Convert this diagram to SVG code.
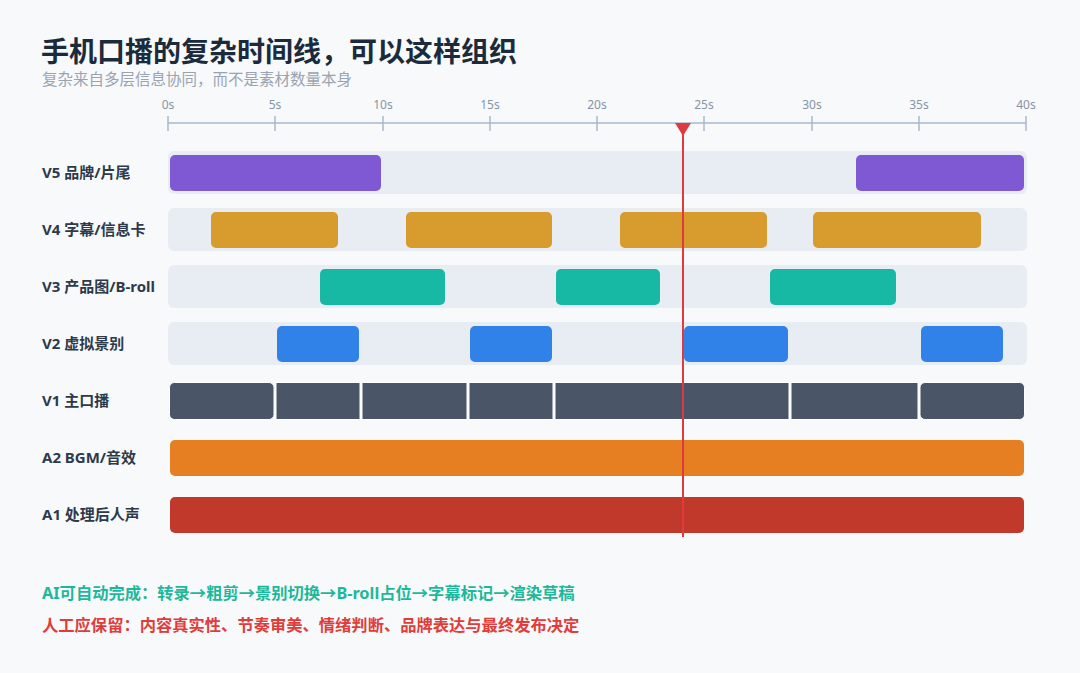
<svg xmlns="http://www.w3.org/2000/svg" width="1080" height="673" viewBox="0 0 1080 673">
<style>
text{font-family:"Noto Sans","Noto Sans CJK SC",sans-serif}
.title{font-size:28px;font-weight:700;fill:#1b2b3c}
.sub{font-size:15.5px;fill:#9aa4b1}
.tick{font-size:12px;fill:#8794a6;text-anchor:middle}
.lbl{font-size:15px;font-weight:700;fill:#2d3a4a}
.bg{fill:#e8edf3}
.v5{fill:#7f58d3}
.v4{fill:#d89c2e}
.v3{fill:#17b9a4}
.v2{fill:#3182e8}
.v1{fill:#4a5568;stroke:#ffffff;stroke-width:1}
.a2{fill:#e67e22}
.a1{fill:#c0392b}
.ai{font-size:16.3px;font-weight:700;fill:#1db89a}
.hu{font-size:16.3px;font-weight:700;fill:#e03d3a}
</style>
<rect x="0" y="0" width="1080" height="673" fill="#f7f9fb"/>
<g id="header">
<text class="title" x="41" y="62">手机口播的复杂时间线，可以这样组织</text>
<text class="sub" x="42" y="85">复杂来自多层信息协同，而不是素材数量本身</text>
</g>
<g id="ruler">
<line x1="168" y1="123" x2="1026" y2="123" stroke="#a9b8cc" stroke-width="1.5"/>
<g stroke="#a9b8cc" stroke-width="1.5">
<line x1="168" y1="116" x2="168" y2="131"/>
<line x1="275" y1="116" x2="275" y2="131"/>
<line x1="383" y1="116" x2="383" y2="131"/>
<line x1="490" y1="116" x2="490" y2="131"/>
<line x1="597" y1="116" x2="597" y2="131"/>
<line x1="704" y1="116" x2="704" y2="131"/>
<line x1="812" y1="116" x2="812" y2="131"/>
<line x1="919" y1="116" x2="919" y2="131"/>
<line x1="1026" y1="116" x2="1026" y2="131"/>
</g>
<text class="tick" x="168" y="109">0s</text>
<text class="tick" x="275" y="109">5s</text>
<text class="tick" x="383" y="109">10s</text>
<text class="tick" x="490" y="109">15s</text>
<text class="tick" x="597" y="109">20s</text>
<text class="tick" x="704" y="109">25s</text>
<text class="tick" x="812" y="109">30s</text>
<text class="tick" x="919" y="109">35s</text>
<text class="tick" x="1026" y="109">40s</text>
</g>
<g id="track-v5">
<text class="lbl" x="42" y="178">V5 品牌/片尾</text>
<rect class="bg" x="168" y="151" width="859" height="43" rx="6"/>
<rect class="v5" x="170" y="155" width="211" height="36" rx="5"/>
<rect class="v5" x="856" y="155" width="168" height="36" rx="5"/>
</g>
<g id="track-v4">
<text class="lbl" x="42" y="235">V4 字幕/信息卡</text>
<rect class="bg" x="168" y="208" width="859" height="43" rx="6"/>
<rect class="v4" x="211" y="212" width="127" height="36" rx="5"/>
<rect class="v4" x="406" y="212" width="146" height="36" rx="5"/>
<rect class="v4" x="620" y="212" width="147" height="36" rx="5"/>
<rect class="v4" x="813" y="212" width="168" height="36" rx="5"/>
</g>
<g id="track-v3">
<text class="lbl" x="42" y="292">V3 产品图/B-roll</text>
<rect class="bg" x="168" y="265" width="859" height="43" rx="6"/>
<rect class="v3" x="320" y="269" width="125" height="36" rx="5"/>
<rect class="v3" x="556" y="269" width="104" height="36" rx="5"/>
<rect class="v3" x="770" y="269" width="126" height="36" rx="5"/>
</g>
<g id="track-v2">
<text class="lbl" x="42" y="349">V2 虚拟景别</text>
<rect class="bg" x="168" y="322" width="859" height="43" rx="6"/>
<rect class="v2" x="277" y="326" width="82" height="36" rx="5"/>
<rect class="v2" x="470" y="326" width="82" height="36" rx="5"/>
<rect class="v2" x="684" y="326" width="104" height="36" rx="5"/>
<rect class="v2" x="921" y="326" width="82" height="36" rx="5"/>
</g>
<g id="track-v1">
<text class="lbl" x="42" y="406">V1 主口播</text>
<rect class="v1" x="169.5" y="382.5" width="104.5" height="37" rx="5"/>
<rect class="v1" x="276" y="382.5" width="84" height="37" rx="0"/>
<rect class="v1" x="362" y="382.5" width="105" height="37" rx="0"/>
<rect class="v1" x="469" y="382.5" width="84" height="37" rx="0"/>
<rect class="v1" x="555" y="382.5" width="234" height="37" rx="0"/>
<rect class="v1" x="791" y="382.5" width="127" height="37" rx="0"/>
<rect class="v1" x="920" y="382.5" width="104.5" height="37" rx="5"/>
</g>
<g id="track-a2">
<text class="lbl" x="42" y="463">A2 BGM/音效</text>
<rect class="a2" x="170" y="440" width="854" height="36" rx="5"/>
</g>
<g id="track-a1">
<text class="lbl" x="42" y="520">A1 处理后人声</text>
<rect class="a1" x="170" y="497" width="854" height="36" rx="5"/>
</g>
<g id="playhead">
<line x1="683" y1="126" x2="683" y2="537" stroke="#e0393e" stroke-width="2"/>
<polygon points="675,123 691,123 683,136" fill="#e0393e"/>
</g>
<g id="notes">
<text class="ai" x="42" y="599">AI可自动完成：转录→粗剪→景别切换→B-roll占位→字幕标记→渲染草稿</text>
<text class="hu" x="42" y="631">人工应保留：内容真实性、节奏审美、情绪判断、品牌表达与最终发布决定</text>
</g>
</svg>
